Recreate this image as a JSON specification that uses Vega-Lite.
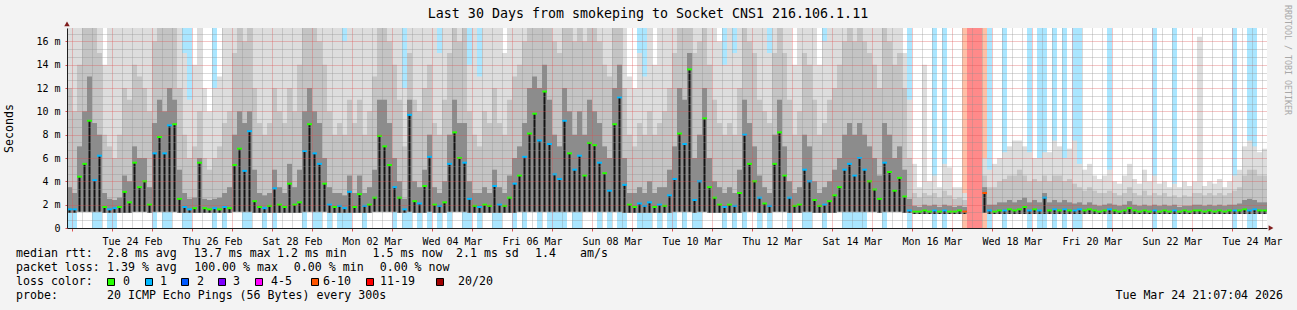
{
"$schema":"https://vega.github.io/schema/vega-lite/v6.json",
"width":1200,"height":200,
"autosize":{"type":"none"},
"padding":{"left":67,"top":28,"right":30,"bottom":82},
"background":"#f3f3f3",
"config":{"view":{"fill":"#ffffff","stroke":null},"font":"DejaVu Sans Mono"},
"title":{"text":"Last 30 Days from smokeping to Socket CNS1 216.106.1.11","font":"DejaVu Sans Mono","fontSize":13.3,"fontWeight":"normal","color":"#000000","anchor":"middle","frame":"group","dx":-19,"offset":-15},
"data":{"values":[
{"t":"2026-02-22T22:30Z","lo":1.3,"m":1.6,"q":3.5,"p":12,"hi":17.2,"l":1},
{"t":"2026-02-23T01:30Z","lo":1.3,"m":1.6,"q":3,"p":10,"hi":17.2,"l":1},
{"t":"2026-02-23T04:30Z","lo":1.4,"m":4.4,"q":7,"p":14,"hi":17.2,"l":0},
{"t":"2026-02-23T07:30Z","lo":1.4,"m":5.5,"q":10,"p":17.2,"hi":17.2,"l":0},
{"t":"2026-02-23T10:30Z","lo":1.4,"m":9.2,"q":13,"p":17.2,"hi":17.2,"l":0},
{"t":"2026-02-23T13:30Z","lo":1.4,"m":4.1,"q":9,"p":17.2,"hi":17.2,"l":1},
{"t":"2026-02-23T16:30Z","lo":1.4,"m":6.2,"q":8,"p":15,"hi":17.2,"l":1},
{"t":"2026-02-23T19:30Z","lo":1.3,"m":1.8,"q":3,"p":8,"hi":14,"l":0},
{"t":"2026-02-23T22:30Z","lo":1.3,"m":1.6,"q":2.5,"p":7,"hi":17.2,"l":1},
{"t":"2026-02-24T01:30Z","lo":1.3,"m":1.7,"q":2.4,"p":6,"hi":17.2,"l":1},
{"t":"2026-02-24T04:30Z","lo":1.3,"m":1.8,"q":2.6,"p":8,"hi":17.2,"l":0},
{"t":"2026-02-24T07:30Z","lo":1.3,"m":3.1,"q":4.5,"p":12,"hi":17.2,"l":0},
{"t":"2026-02-24T10:30Z","lo":1.3,"m":2.2,"q":4,"p":11,"hi":17.2,"l":0},
{"t":"2026-02-24T13:30Z","lo":1.4,"m":5.6,"q":7,"p":14,"hi":17.2,"l":0},
{"t":"2026-02-24T16:30Z","lo":1.4,"m":3.5,"q":6,"p":13,"hi":17.2,"l":0},
{"t":"2026-02-24T19:30Z","lo":1.4,"m":4,"q":6,"p":12,"hi":17.2,"l":0},
{"t":"2026-02-24T22:30Z","lo":1.3,"m":2,"q":3.5,"p":10,"hi":17.2,"l":0},
{"t":"2026-02-25T01:30Z","lo":1.4,"m":6.4,"q":9,"p":16,"hi":17.2,"l":1},
{"t":"2026-02-25T04:30Z","lo":1.4,"m":7.8,"q":11,"p":17.2,"hi":17.2,"l":0},
{"t":"2026-02-25T07:30Z","lo":1.4,"m":6.4,"q":10,"p":17.2,"hi":17.2,"l":1},
{"t":"2026-02-25T10:30Z","lo":1.4,"m":8.8,"q":12,"p":17.2,"hi":17.2,"l":1},
{"t":"2026-02-25T13:30Z","lo":1.4,"m":8.9,"q":11,"p":17.2,"hi":17.2,"l":0},
{"t":"2026-02-25T16:30Z","lo":1.3,"m":2.5,"q":5,"p":12,"hi":17.2,"l":0},
{"t":"2026-02-25T19:30Z","lo":1.3,"m":1.8,"q":3,"p":8,"hi":15,"l":1},
{"t":"2026-02-25T22:30Z","lo":1.3,"m":1.6,"q":2.5,"p":6,"hi":11,"l":1},
{"t":"2026-02-26T01:30Z","lo":1.3,"m":1.7,"q":2.6,"p":7,"hi":14,"l":0},
{"t":"2026-02-26T04:30Z","lo":1.3,"m":5.6,"q":6,"p":10,"hi":17.2,"l":0},
{"t":"2026-02-26T07:30Z","lo":1.3,"m":1.7,"q":2.5,"p":6,"hi":12,"l":0},
{"t":"2026-02-26T10:30Z","lo":1.3,"m":1.6,"q":2.4,"p":5,"hi":10,"l":0},
{"t":"2026-02-26T13:30Z","lo":1.3,"m":1.7,"q":2.5,"p":6,"hi":12,"l":1},
{"t":"2026-02-26T16:30Z","lo":1.3,"m":1.6,"q":2.6,"p":7,"hi":13,"l":0},
{"t":"2026-02-26T19:30Z","lo":1.3,"m":1.8,"q":3,"p":9,"hi":17.2,"l":1},
{"t":"2026-02-26T22:30Z","lo":1.3,"m":1.7,"q":3.5,"p":10,"hi":17.2,"l":0},
{"t":"2026-02-27T01:30Z","lo":1.4,"m":5.4,"q":8,"p":15,"hi":17.2,"l":0},
{"t":"2026-02-27T04:30Z","lo":1.4,"m":6.8,"q":10,"p":17.2,"hi":17.2,"l":0},
{"t":"2026-02-27T07:30Z","lo":1.4,"m":4.9,"q":9,"p":16,"hi":17.2,"l":1},
{"t":"2026-02-27T10:30Z","lo":1.4,"m":8.3,"q":10,"p":17.2,"hi":17.2,"l":1},
{"t":"2026-02-27T13:30Z","lo":1.3,"m":2.3,"q":5,"p":12,"hi":17.2,"l":0},
{"t":"2026-02-27T16:30Z","lo":1.3,"m":1.8,"q":3,"p":9,"hi":17.2,"l":0},
{"t":"2026-02-27T19:30Z","lo":1.3,"m":1.7,"q":2.8,"p":8,"hi":17.2,"l":1},
{"t":"2026-02-27T22:30Z","lo":1.3,"m":1.9,"q":3,"p":9,"hi":17.2,"l":0},
{"t":"2026-02-28T01:30Z","lo":1.3,"m":3.4,"q":5,"p":12,"hi":17.2,"l":1},
{"t":"2026-02-28T04:30Z","lo":1.3,"m":2,"q":3.5,"p":10,"hi":17.2,"l":0},
{"t":"2026-02-28T07:30Z","lo":1.3,"m":1.8,"q":3,"p":9,"hi":17.2,"l":0},
{"t":"2026-02-28T10:30Z","lo":1.3,"m":3.8,"q":5.5,"p":12,"hi":17.2,"l":0},
{"t":"2026-02-28T13:30Z","lo":1.3,"m":2,"q":3.5,"p":10,"hi":17.2,"l":0},
{"t":"2026-02-28T16:30Z","lo":1.3,"m":2.2,"q":5,"p":14,"hi":17.2,"l":0},
{"t":"2026-02-28T19:30Z","lo":1.4,"m":6.6,"q":10,"p":17.2,"hi":17.2,"l":1},
{"t":"2026-02-28T22:30Z","lo":1.4,"m":8.9,"q":12,"p":17.2,"hi":17.2,"l":0},
{"t":"2026-03-01T01:30Z","lo":1.4,"m":6.4,"q":10,"p":17.2,"hi":17.2,"l":1},
{"t":"2026-03-01T04:30Z","lo":1.4,"m":5.5,"q":9,"p":16,"hi":17.2,"l":1},
{"t":"2026-03-01T07:30Z","lo":1.4,"m":3.8,"q":6,"p":14,"hi":17.2,"l":0},
{"t":"2026-03-01T10:30Z","lo":1.3,"m":2,"q":3.5,"p":10,"hi":17.2,"l":1},
{"t":"2026-03-01T13:30Z","lo":1.3,"m":1.8,"q":3,"p":8,"hi":17.2,"l":0},
{"t":"2026-03-01T16:30Z","lo":1.3,"m":1.9,"q":3,"p":9,"hi":17.2,"l":1},
{"t":"2026-03-01T19:30Z","lo":1.3,"m":1.7,"q":2.8,"p":8,"hi":16,"l":1},
{"t":"2026-03-01T22:30Z","lo":1.3,"m":3.1,"q":4.5,"p":11,"hi":17.2,"l":1},
{"t":"2026-03-02T01:30Z","lo":1.3,"m":1.8,"q":3,"p":9,"hi":17.2,"l":0},
{"t":"2026-03-02T04:30Z","lo":1.3,"m":2.9,"q":4.5,"p":11,"hi":17.2,"l":0},
{"t":"2026-03-02T07:30Z","lo":1.3,"m":1.9,"q":3,"p":8,"hi":17.2,"l":1},
{"t":"2026-03-02T10:30Z","lo":1.3,"m":2,"q":3.5,"p":10,"hi":17.2,"l":0},
{"t":"2026-03-02T13:30Z","lo":1.4,"m":2.6,"q":5,"p":13,"hi":17.2,"l":0},
{"t":"2026-03-02T16:30Z","lo":1.4,"m":7.9,"q":11,"p":17.2,"hi":17.2,"l":0},
{"t":"2026-03-02T19:30Z","lo":1.4,"m":7,"q":11,"p":17.2,"hi":17.2,"l":0},
{"t":"2026-03-02T22:30Z","lo":1.4,"m":5.4,"q":9,"p":16,"hi":17.2,"l":0},
{"t":"2026-03-03T01:30Z","lo":1.4,"m":3.5,"q":6,"p":14,"hi":17.2,"l":1},
{"t":"2026-03-03T04:30Z","lo":1.3,"m":2.6,"q":4,"p":11,"hi":17.2,"l":0},
{"t":"2026-03-03T07:30Z","lo":1.3,"m":1.6,"q":2.5,"p":7,"hi":12,"l":1},
{"t":"2026-03-03T10:30Z","lo":1.4,"m":9.7,"q":11,"p":15,"hi":17.2,"l":1},
{"t":"2026-03-03T13:30Z","lo":1.3,"m":2.3,"q":4,"p":11,"hi":17.2,"l":0},
{"t":"2026-03-03T16:30Z","lo":1.3,"m":2.1,"q":3.5,"p":10,"hi":17.2,"l":1},
{"t":"2026-03-03T19:30Z","lo":1.3,"m":3.6,"q":5,"p":12,"hi":17.2,"l":0},
{"t":"2026-03-03T22:30Z","lo":1.4,"m":6.1,"q":8,"p":14,"hi":17.2,"l":1},
{"t":"2026-03-04T01:30Z","lo":1.3,"m":2,"q":3.5,"p":9,"hi":17.2,"l":0},
{"t":"2026-03-04T04:30Z","lo":1.3,"m":1.9,"q":3,"p":8,"hi":15,"l":1},
{"t":"2026-03-04T07:30Z","lo":1.3,"m":2.2,"q":4,"p":11,"hi":17.2,"l":0},
{"t":"2026-03-04T10:30Z","lo":1.4,"m":5.5,"q":8,"p":15,"hi":17.2,"l":1},
{"t":"2026-03-04T13:30Z","lo":1.4,"m":8.2,"q":11,"p":17.2,"hi":17.2,"l":0},
{"t":"2026-03-04T16:30Z","lo":1.4,"m":6,"q":9,"p":16,"hi":17.2,"l":0},
{"t":"2026-03-04T19:30Z","lo":1.4,"m":5.6,"q":9,"p":17.2,"hi":17.2,"l":1},
{"t":"2026-03-04T22:30Z","lo":1.3,"m":2.5,"q":4,"p":10,"hi":14,"l":1},
{"t":"2026-03-05T01:30Z","lo":1.3,"m":1.9,"q":3,"p":8,"hi":17.2,"l":0},
{"t":"2026-03-05T04:30Z","lo":1.3,"m":1.8,"q":3,"p":7,"hi":13,"l":1},
{"t":"2026-03-05T07:30Z","lo":1.3,"m":2,"q":3.5,"p":10,"hi":17.2,"l":0},
{"t":"2026-03-05T10:30Z","lo":1.3,"m":1.9,"q":3,"p":9,"hi":17.2,"l":0},
{"t":"2026-03-05T13:30Z","lo":1.3,"m":3.6,"q":5,"p":12,"hi":17.2,"l":1},
{"t":"2026-03-05T16:30Z","lo":1.3,"m":2,"q":3.5,"p":9,"hi":17.2,"l":1},
{"t":"2026-03-05T19:30Z","lo":1.3,"m":1.9,"q":3,"p":8,"hi":15,"l":0},
{"t":"2026-03-05T22:30Z","lo":1.3,"m":2.6,"q":4.5,"p":11,"hi":17.2,"l":0},
{"t":"2026-03-06T01:30Z","lo":1.3,"m":3.8,"q":6,"p":13,"hi":17.2,"l":1},
{"t":"2026-03-06T04:30Z","lo":1.4,"m":4.5,"q":7,"p":14,"hi":17.2,"l":0},
{"t":"2026-03-06T07:30Z","lo":1.4,"m":6.1,"q":9,"p":16,"hi":17.2,"l":1},
{"t":"2026-03-06T10:30Z","lo":1.4,"m":8.1,"q":12,"p":17.2,"hi":17.2,"l":0},
{"t":"2026-03-06T13:30Z","lo":1.4,"m":9.8,"q":13,"p":17.2,"hi":17.2,"l":0},
{"t":"2026-03-06T16:30Z","lo":1.4,"m":7.5,"q":12,"p":17.2,"hi":17.2,"l":1},
{"t":"2026-03-06T19:30Z","lo":1.4,"m":11.7,"q":14,"p":17.2,"hi":17.2,"l":0},
{"t":"2026-03-06T22:30Z","lo":1.4,"m":7.2,"q":11,"p":17.2,"hi":17.2,"l":1},
{"t":"2026-03-07T01:30Z","lo":1.4,"m":4.6,"q":8,"p":16,"hi":17.2,"l":1},
{"t":"2026-03-07T04:30Z","lo":1.4,"m":4.2,"q":7,"p":15,"hi":17.2,"l":1},
{"t":"2026-03-07T07:30Z","lo":1.4,"m":9.2,"q":12,"p":17.2,"hi":17.2,"l":1},
{"t":"2026-03-07T10:30Z","lo":1.4,"m":6.4,"q":10,"p":17.2,"hi":17.2,"l":0},
{"t":"2026-03-07T13:30Z","lo":1.4,"m":5,"q":8,"p":16,"hi":17.2,"l":1},
{"t":"2026-03-07T16:30Z","lo":1.4,"m":6.2,"q":10,"p":17.2,"hi":17.2,"l":1},
{"t":"2026-03-07T19:30Z","lo":1.4,"m":4.5,"q":8,"p":16,"hi":17.2,"l":0},
{"t":"2026-03-07T22:30Z","lo":1.4,"m":7.3,"q":11,"p":17.2,"hi":17.2,"l":0},
{"t":"2026-03-08T01:30Z","lo":1.4,"m":7.1,"q":10,"p":17.2,"hi":17.2,"l":0},
{"t":"2026-03-08T04:30Z","lo":1.4,"m":5.6,"q":9,"p":16,"hi":17.2,"l":1},
{"t":"2026-03-08T07:30Z","lo":1.4,"m":4.7,"q":7,"p":14,"hi":17.2,"l":0},
{"t":"2026-03-08T10:30Z","lo":1.4,"m":3.2,"q":6,"p":13,"hi":17.2,"l":1},
{"t":"2026-03-08T13:30Z","lo":1.4,"m":8.9,"q":12,"p":17.2,"hi":17.2,"l":0},
{"t":"2026-03-08T16:30Z","lo":1.4,"m":11.2,"q":14,"p":17.2,"hi":17.2,"l":1},
{"t":"2026-03-08T19:30Z","lo":1.3,"m":3.7,"q":6,"p":12,"hi":17.2,"l":1},
{"t":"2026-03-08T22:30Z","lo":1.3,"m":2,"q":3,"p":8,"hi":13,"l":0},
{"t":"2026-03-09T01:30Z","lo":1.3,"m":1.8,"q":3,"p":7,"hi":12,"l":0},
{"t":"2026-03-09T04:30Z","lo":1.3,"m":2.1,"q":3.5,"p":9,"hi":15,"l":1},
{"t":"2026-03-09T07:30Z","lo":1.3,"m":1.9,"q":3,"p":8,"hi":13,"l":1},
{"t":"2026-03-09T10:30Z","lo":1.3,"m":2.2,"q":4,"p":10,"hi":17.2,"l":1},
{"t":"2026-03-09T13:30Z","lo":1.3,"m":1.8,"q":3,"p":8,"hi":14,"l":0},
{"t":"2026-03-09T16:30Z","lo":1.3,"m":2,"q":3.5,"p":9,"hi":17.2,"l":1},
{"t":"2026-03-09T19:30Z","lo":1.3,"m":1.9,"q":3.5,"p":10,"hi":17.2,"l":0},
{"t":"2026-03-09T22:30Z","lo":1.3,"m":2.8,"q":5,"p":12,"hi":17.2,"l":1},
{"t":"2026-03-10T01:30Z","lo":1.4,"m":4.2,"q":7,"p":15,"hi":17.2,"l":1},
{"t":"2026-03-10T04:30Z","lo":1.4,"m":8.1,"q":12,"p":17.2,"hi":17.2,"l":0},
{"t":"2026-03-10T07:30Z","lo":1.4,"m":7.2,"q":11,"p":17.2,"hi":17.2,"l":1},
{"t":"2026-03-10T10:30Z","lo":1.4,"m":13.6,"q":15,"p":17.2,"hi":17.2,"l":0},
{"t":"2026-03-10T13:30Z","lo":1.3,"m":2.4,"q":6,"p":15,"hi":17.2,"l":1},
{"t":"2026-03-10T16:30Z","lo":1.4,"m":4,"q":8,"p":16,"hi":17.2,"l":1},
{"t":"2026-03-10T19:30Z","lo":1.4,"m":9.4,"q":12,"p":17.2,"hi":17.2,"l":0},
{"t":"2026-03-10T22:30Z","lo":1.3,"m":3.5,"q":6,"p":14,"hi":17.2,"l":0},
{"t":"2026-03-11T01:30Z","lo":1.3,"m":2.6,"q":4,"p":11,"hi":17.2,"l":0},
{"t":"2026-03-11T04:30Z","lo":1.3,"m":2,"q":3.5,"p":9,"hi":16,"l":0},
{"t":"2026-03-11T07:30Z","lo":1.3,"m":1.8,"q":3,"p":8,"hi":14,"l":1},
{"t":"2026-03-11T10:30Z","lo":1.3,"m":2,"q":3.5,"p":9,"hi":17.2,"l":0},
{"t":"2026-03-11T13:30Z","lo":1.3,"m":1.9,"q":3,"p":8,"hi":15,"l":1},
{"t":"2026-03-11T16:30Z","lo":1.3,"m":3,"q":5,"p":12,"hi":17.2,"l":0},
{"t":"2026-03-11T19:30Z","lo":1.4,"m":8,"q":11,"p":17.2,"hi":17.2,"l":1},
{"t":"2026-03-11T22:30Z","lo":1.4,"m":5.5,"q":9,"p":16,"hi":17.2,"l":0},
{"t":"2026-03-12T01:30Z","lo":1.4,"m":4,"q":7,"p":15,"hi":17.2,"l":0},
{"t":"2026-03-12T04:30Z","lo":1.3,"m":2.6,"q":4.5,"p":11,"hi":17.2,"l":1},
{"t":"2026-03-12T07:30Z","lo":1.3,"m":2.1,"q":3.5,"p":10,"hi":17.2,"l":0},
{"t":"2026-03-12T10:30Z","lo":1.3,"m":1.9,"q":3,"p":9,"hi":15,"l":1},
{"t":"2026-03-12T13:30Z","lo":1.4,"m":5.5,"q":8,"p":15,"hi":17.2,"l":0},
{"t":"2026-03-12T16:30Z","lo":1.4,"m":8.2,"q":11,"p":17.2,"hi":17.2,"l":0},
{"t":"2026-03-12T19:30Z","lo":1.4,"m":4.5,"q":7,"p":15,"hi":17.2,"l":0},
{"t":"2026-03-12T22:30Z","lo":1.3,"m":2.6,"q":4,"p":11,"hi":17.2,"l":1},
{"t":"2026-03-13T01:30Z","lo":1.3,"m":1.9,"q":3,"p":8,"hi":14,"l":0},
{"t":"2026-03-13T04:30Z","lo":1.3,"m":2,"q":3.5,"p":10,"hi":17.2,"l":0},
{"t":"2026-03-13T07:30Z","lo":1.4,"m":5,"q":8,"p":15,"hi":17.2,"l":1},
{"t":"2026-03-13T10:30Z","lo":1.4,"m":4,"q":7,"p":14,"hi":17.2,"l":1},
{"t":"2026-03-13T13:30Z","lo":1.3,"m":2.4,"q":4,"p":11,"hi":17.2,"l":0},
{"t":"2026-03-13T16:30Z","lo":1.3,"m":1.9,"q":3,"p":8,"hi":14,"l":0},
{"t":"2026-03-13T19:30Z","lo":1.3,"m":2,"q":3.5,"p":9,"hi":16,"l":1},
{"t":"2026-03-13T22:30Z","lo":1.3,"m":2.3,"q":4,"p":11,"hi":17.2,"l":0},
{"t":"2026-03-14T01:30Z","lo":1.3,"m":2.8,"q":5,"p":12,"hi":17.2,"l":0},
{"t":"2026-03-14T04:30Z","lo":1.4,"m":3.5,"q":6,"p":14,"hi":17.2,"l":0},
{"t":"2026-03-14T07:30Z","lo":1.4,"m":5,"q":8,"p":16,"hi":17.2,"l":1},
{"t":"2026-03-14T10:30Z","lo":1.4,"m":5.5,"q":9,"p":17.2,"hi":17.2,"l":1},
{"t":"2026-03-14T13:30Z","lo":1.4,"m":4.5,"q":8,"p":16,"hi":17.2,"l":1},
{"t":"2026-03-14T16:30Z","lo":1.4,"m":6,"q":9,"p":17.2,"hi":17.2,"l":1},
{"t":"2026-03-14T19:30Z","lo":1.4,"m":5,"q":8,"p":16,"hi":17.2,"l":1},
{"t":"2026-03-14T22:30Z","lo":1.4,"m":4,"q":7,"p":15,"hi":17.2,"l":0},
{"t":"2026-03-15T01:30Z","lo":1.4,"m":3.3,"q":6,"p":14,"hi":17.2,"l":0},
{"t":"2026-03-15T04:30Z","lo":1.3,"m":2.5,"q":4.5,"p":12,"hi":17.2,"l":0},
{"t":"2026-03-15T07:30Z","lo":1.4,"m":5.6,"q":9,"p":17.2,"hi":17.2,"l":1},
{"t":"2026-03-15T10:30Z","lo":1.4,"m":4.8,"q":8,"p":16,"hi":17.2,"l":0},
{"t":"2026-03-15T13:30Z","lo":1.4,"m":3.2,"q":6,"p":14,"hi":17.2,"l":0},
{"t":"2026-03-15T16:30Z","lo":1.4,"m":4.3,"q":7,"p":15,"hi":17.2,"l":0},
{"t":"2026-03-15T19:30Z","lo":1.3,"m":2.7,"q":5,"p":12,"hi":15,"l":0},
{"t":"2026-03-15T22:30Z","lo":1.3,"m":1.5,"q":2.5,"p":6,"hi":11,"l":1},
{"t":"2026-03-16T01:30Z","lo":1.2,"m":1.4,"q":1.9,"p":3,"hi":5.5,"l":0},
{"t":"2026-03-16T04:30Z","lo":1.2,"m":1.4,"q":1.8,"p":2.6,"hi":3.5,"l":0},
{"t":"2026-03-16T07:30Z","lo":1.2,"m":1.5,"q":2,"p":3,"hi":14,"l":0},
{"t":"2026-03-16T10:30Z","lo":1.2,"m":1.4,"q":1.9,"p":2.8,"hi":4,"l":0},
{"t":"2026-03-16T13:30Z","lo":1.2,"m":1.5,"q":2,"p":3,"hi":4.5,"l":1},
{"t":"2026-03-16T16:30Z","lo":1.2,"m":1.4,"q":1.8,"p":2.6,"hi":3.5,"l":0},
{"t":"2026-03-16T19:30Z","lo":1.2,"m":1.5,"q":2,"p":3.2,"hi":5.5,"l":1},
{"t":"2026-03-16T22:30Z","lo":1.2,"m":1.4,"q":1.9,"p":2.8,"hi":5.2,"l":0},
{"t":"2026-03-17T01:30Z","lo":1.2,"m":1.4,"q":1.8,"p":2.5,"hi":3.5,"l":0},
{"t":"2026-03-17T04:30Z","lo":1.2,"m":1.5,"q":1.9,"p":2.6,"hi":3.5,"l":0},
{"t":"2026-03-17T07:30Z","lo":1.2,"m":1.4,"q":1.8,"p":2.4,"hi":3,"l":7},
{"t":"2026-03-17T10:30Z","l":20},
{"t":"2026-03-17T13:30Z","l":20},
{"t":"2026-03-17T16:30Z","l":20},
{"t":"2026-03-17T19:30Z","lo":1.3,"m":3,"q":3.5,"p":4.5,"hi":6,"l":7},
{"t":"2026-03-17T22:30Z","lo":1.2,"m":1.5,"q":2,"p":3.5,"hi":5,"l":1},
{"t":"2026-03-18T01:30Z","lo":1.2,"m":1.4,"q":2,"p":3.5,"hi":5.5,"l":0},
{"t":"2026-03-18T04:30Z","lo":1.2,"m":1.5,"q":2.2,"p":4,"hi":6,"l":0},
{"t":"2026-03-18T07:30Z","lo":1.2,"m":1.5,"q":2.2,"p":4.2,"hi":6.5,"l":1},
{"t":"2026-03-18T10:30Z","lo":1.2,"m":1.6,"q":2.4,"p":4.5,"hi":7,"l":0},
{"t":"2026-03-18T13:30Z","lo":1.2,"m":1.5,"q":2.2,"p":4.5,"hi":7.5,"l":0},
{"t":"2026-03-18T16:30Z","lo":1.2,"m":1.6,"q":2.4,"p":5,"hi":7.5,"l":0},
{"t":"2026-03-18T19:30Z","lo":1.2,"m":1.8,"q":2.6,"p":4.5,"hi":7,"l":0},
{"t":"2026-03-18T22:30Z","lo":1.2,"m":1.5,"q":2.2,"p":4,"hi":6.5,"l":1},
{"t":"2026-03-19T01:30Z","lo":1.2,"m":1.6,"q":2.4,"p":4.2,"hi":6,"l":0},
{"t":"2026-03-19T04:30Z","lo":1.2,"m":1.5,"q":2.2,"p":4,"hi":6,"l":1},
{"t":"2026-03-19T07:30Z","lo":1.2,"m":2.6,"q":3,"p":4.5,"hi":6.5,"l":1},
{"t":"2026-03-19T10:30Z","lo":1.2,"m":1.5,"q":2.2,"p":4,"hi":6.5,"l":0},
{"t":"2026-03-19T13:30Z","lo":1.2,"m":1.6,"q":2.4,"p":4.5,"hi":7.5,"l":1},
{"t":"2026-03-19T16:30Z","lo":1.2,"m":1.5,"q":2.2,"p":4.5,"hi":7,"l":0},
{"t":"2026-03-19T19:30Z","lo":1.2,"m":1.6,"q":2.4,"p":4,"hi":6,"l":1},
{"t":"2026-03-19T22:30Z","lo":1.2,"m":1.5,"q":2.2,"p":4.2,"hi":6.8,"l":0},
{"t":"2026-03-20T01:30Z","lo":1.2,"m":1.5,"q":2.1,"p":3.8,"hi":7.5,"l":1},
{"t":"2026-03-20T04:30Z","lo":1.2,"m":1.6,"q":2.2,"p":3.5,"hi":5.5,"l":1},
{"t":"2026-03-20T07:30Z","lo":1.2,"m":1.5,"q":2,"p":3.2,"hi":5,"l":0},
{"t":"2026-03-20T10:30Z","lo":1.2,"m":1.6,"q":2.2,"p":3.5,"hi":5.5,"l":0},
{"t":"2026-03-20T13:30Z","lo":1.2,"m":1.5,"q":2,"p":3.2,"hi":4.5,"l":0},
{"t":"2026-03-20T16:30Z","lo":1.2,"m":1.4,"q":1.9,"p":3,"hi":4.2,"l":0},
{"t":"2026-03-20T19:30Z","lo":1.2,"m":1.5,"q":2,"p":3,"hi":4.5,"l":0},
{"t":"2026-03-20T22:30Z","lo":1.2,"m":1.6,"q":2.1,"p":3.2,"hi":5,"l":1},
{"t":"2026-03-21T01:30Z","lo":1.2,"m":1.5,"q":2,"p":3,"hi":4,"l":0},
{"t":"2026-03-21T04:30Z","lo":1.2,"m":1.4,"q":1.9,"p":2.8,"hi":3.8,"l":0},
{"t":"2026-03-21T07:30Z","lo":1.2,"m":1.5,"q":2,"p":3,"hi":4.5,"l":0},
{"t":"2026-03-21T10:30Z","lo":1.2,"m":1.7,"q":2.3,"p":3.5,"hi":5.5,"l":0},
{"t":"2026-03-21T13:30Z","lo":1.2,"m":1.5,"q":2,"p":3,"hi":4.2,"l":0},
{"t":"2026-03-21T16:30Z","lo":1.2,"m":1.4,"q":1.9,"p":2.8,"hi":3.8,"l":0},
{"t":"2026-03-21T19:30Z","lo":1.2,"m":1.5,"q":2,"p":3.2,"hi":5,"l":0},
{"t":"2026-03-21T22:30Z","lo":1.2,"m":1.4,"q":1.9,"p":2.8,"hi":4,"l":0},
{"t":"2026-03-22T01:30Z","lo":1.2,"m":1.5,"q":2,"p":3,"hi":4.5,"l":1},
{"t":"2026-03-22T04:30Z","lo":1.2,"m":1.4,"q":1.9,"p":2.8,"hi":3.8,"l":0},
{"t":"2026-03-22T07:30Z","lo":1.2,"m":1.5,"q":2,"p":3,"hi":4,"l":0},
{"t":"2026-03-22T10:30Z","lo":1.2,"m":1.4,"q":1.9,"p":2.7,"hi":3.5,"l":0},
{"t":"2026-03-22T13:30Z","lo":1.2,"m":1.5,"q":2,"p":2.8,"hi":3.8,"l":1},
{"t":"2026-03-22T16:30Z","lo":1.2,"m":1.4,"q":1.8,"p":2.6,"hi":3.5,"l":0},
{"t":"2026-03-22T19:30Z","lo":1.2,"m":1.5,"q":1.9,"p":2.8,"hi":4,"l":0},
{"t":"2026-03-22T22:30Z","lo":1.2,"m":1.4,"q":1.9,"p":2.7,"hi":3.6,"l":0},
{"t":"2026-03-23T01:30Z","lo":1.2,"m":1.5,"q":2,"p":3,"hi":4,"l":0},
{"t":"2026-03-23T04:30Z","lo":1.2,"m":1.5,"q":2,"p":3,"hi":16.4,"l":0},
{"t":"2026-03-23T07:30Z","lo":1.2,"m":1.4,"q":1.9,"p":2.8,"hi":3.6,"l":0},
{"t":"2026-03-23T10:30Z","lo":1.2,"m":1.5,"q":2,"p":3,"hi":4,"l":0},
{"t":"2026-03-23T13:30Z","lo":1.2,"m":1.4,"q":1.9,"p":2.8,"hi":3.8,"l":0},
{"t":"2026-03-23T16:30Z","lo":1.2,"m":1.5,"q":2,"p":3,"hi":4.2,"l":0},
{"t":"2026-03-23T19:30Z","lo":1.2,"m":1.4,"q":1.9,"p":2.8,"hi":3.5,"l":0},
{"t":"2026-03-23T22:30Z","lo":1.2,"m":1.5,"q":2,"p":3,"hi":4,"l":0},
{"t":"2026-03-24T01:30Z","lo":1.2,"m":1.5,"q":2,"p":3.2,"hi":4.5,"l":1},
{"t":"2026-03-24T04:30Z","lo":1.2,"m":1.5,"q":2.1,"p":3.5,"hi":5,"l":0},
{"t":"2026-03-24T07:30Z","lo":1.2,"m":1.6,"q":2.4,"p":4.5,"hi":7,"l":0},
{"t":"2026-03-24T10:30Z","lo":1.2,"m":1.5,"q":2.5,"p":5,"hi":7.5,"l":1},
{"t":"2026-03-24T13:30Z","lo":1.2,"m":1.6,"q":2.4,"p":5,"hi":7,"l":1},
{"t":"2026-03-24T16:30Z","lo":1.2,"m":1.5,"q":2.2,"p":4.5,"hi":6.5,"l":0},
{"t":"2026-03-24T19:30Z","lo":1.2,"m":1.5,"q":2.2,"p":4.5,"hi":6.8,"l":0}
]},
"layer":[
{"transform":[{"filter":"datum.l > 0"}],
 "mark":{"type":"bar","width":5,"clip":true},
 "encoding":{
  "x":{"field":"t","type":"temporal","scale":{"type":"utc","domain":[1771794000000,1774386000000],"padding":0},
   "axis":{"tickCount":120,"grid":true,
    "gridColor":{"condition":{"test":"utchours(datum.value) == 0","value":"#de5050"},"value":"#8f8f8f"},
    "gridOpacity":0.65,"gridDash":[1,1],
    "labelExpr":"utchours(datum.value) == 0 && utcdate(datum.value) % 2 == 0 ? utcFormat(datum.value, '%a %d %b') : ''",
    "labelOffset":20,"labelFont":"DejaVu Sans Mono","labelFontSize":10,"labelColor":"#000000","labelPadding":5,"labelOverlap":false,"labelFlush":false,"labelBound":false,
    "ticks":true,"tickColor":"#de5050","tickSize":3,
    "tickOpacity":{"condition":{"test":"utchours(datum.value) == 0","value":1},"value":0},
    "domainColor":"#1f1f1f","title":null,"zindex":1}},
  "y":{"datum":17.2,"type":"quantitative","scale":{"domain":[0,17.15],"nice":false,"zero":false},
   "axis":{"values":[0,0.6667,1.3333,2,2.6667,3.3333,4,4.6667,5.3333,6,6.6667,7.3333,8,8.6667,9.3333,10,10.6667,11.3333,12,12.6667,13.3333,14,14.6667,15.3333,16,16.6667],
    "tickCount":100,"grid":true,
    "gridColor":{"condition":{"test":"abs(datum.value/2 - round(datum.value/2)) < 0.01","value":"#de5050"},"value":"#8f8f8f"},
    "gridOpacity":0.65,"gridDash":[1,1],
    "labelExpr":"abs(datum.value/2 - round(datum.value/2)) < 0.01 ? (datum.value < 0.01 ? '0' : round(datum.value) + ' m') : ''",
    "labelOverlap":false,"labelFont":"DejaVu Sans Mono","labelFontSize":10,"labelColor":"#000000",
    "ticks":true,"tickColor":"#de5050","tickSize":2,
    "tickOpacity":{"condition":{"test":"abs(datum.value/2 - round(datum.value/2)) < 0.01","value":1},"value":0},
    "labelPadding":5,"domainColor":"#1f1f1f","title":"Seconds","titleFont":"DejaVu Sans Mono","titleFontSize":11.6,"titleFontWeight":"normal","titleColor":"#000000","titlePadding":21,"zindex":1}},
  "y2":{"datum":0},
  "color":{"field":"l","type":"quantitative","scale":{"type":"threshold","domain":[1,2,3,4,6,11,20],"range":["#ffffff","#aae6ff","#aac7ff","#d4aaff","#ffaaff","#ffbfa6","#ffa0a0","#ff8a8a"]},"legend":null}
 }},
{"mark":{"type":"bar","width":5,"clip":true,"color":"#dddddd"},
 "encoding":{"x":{"field":"t","type":"temporal"},"y":{"field":"lo","type":"quantitative"},"y2":{"field":"hi"}}},
{"mark":{"type":"bar","width":5,"clip":true,"color":"#c4c4c4"},
 "encoding":{"x":{"field":"t","type":"temporal"},"y":{"field":"lo","type":"quantitative"},"y2":{"field":"p"}}},
{"mark":{"type":"bar","width":5,"clip":true,"color":"#8c8c8c"},
 "encoding":{"x":{"field":"t","type":"temporal"},"y":{"field":"lo","type":"quantitative"},"y2":{"field":"q"}}},
{"mark":{"type":"bar","width":2,"clip":true,"color":"#141414"},
 "encoding":{"x":{"field":"t","type":"temporal"},"y":{"field":"lo","type":"quantitative"},"y2":{"field":"m"}}},
{"mark":{"type":"tick","orient":"horizontal","size":5,"thickness":2,"opacity":1},
 "encoding":{
  "x":{"field":"t","type":"temporal"},
  "y":{"field":"m","type":"quantitative"},
  "color":{"field":"l","type":"quantitative","scale":{"type":"threshold","domain":[1,2,3,4,6,11,20],"range":["#26ff00","#00b8ff","#0059ff","#7e00ff","#ff00ff","#ff5500","#ff0000","#a00000"]},"legend":null}
 }},
{"data":{"values":[{"t":"2026-02-22T21:00Z","v":17.5}]},
 "mark":{"type":"point","shape":"triangle-up","filled":true,"size":30,"color":"#801e1e","opacity":1},
 "encoding":{"x":{"field":"t","type":"temporal"},"y":{"field":"v","type":"quantitative"}}},
{"data":{"values":[{"t":"2026-03-24T23:24Z","v":0}]},
 "mark":{"type":"point","shape":"triangle-right","filled":true,"size":30,"color":"#801e1e","opacity":1},
 "encoding":{"x":{"field":"t","type":"temporal"},"y":{"field":"v","type":"quantitative"}}},
{"data":{"values":[{"t":"2026-03-25T09:00Z","v":19.12,"s":"RRDTOOL / TOBI OETIKER"}]},
 "mark":{"type":"text","angle":90,"align":"left","baseline":"middle","font":"DejaVu Sans Mono","fontSize":8.3,"color":"#a8a8a8"},
 "encoding":{"x":{"field":"t","type":"temporal"},"y":{"field":"v","type":"quantitative"},"text":{"field":"s"}}},
{"data":{"values":[
 {"t":"2026-02-21T14:24Z","v":-2.23,"s":"median rtt:"},
 {"t":"2026-02-23T21:00Z","v":-2.23,"s":"2.8 ms avg"},
 {"t":"2026-02-26T01:05Z","v":-2.23,"s":"13.7 ms max"},
 {"t":"2026-02-28T03:00Z","v":-2.23,"s":"1.2 ms min"},
 {"t":"2026-03-02T12:22Z","v":-2.23,"s":"1.5 ms now"},
 {"t":"2026-03-04T14:24Z","v":-2.23,"s":"2.1 ms sd"},
 {"t":"2026-03-06T13:48Z","v":-2.23,"s":"1.4"},
 {"t":"2026-03-07T16:48Z","v":-2.23,"s":"am/s"},
 {"t":"2026-02-21T14:24Z","v":-3.43,"s":"packet loss:"},
 {"t":"2026-02-23T21:00Z","v":-3.43,"s":"1.39 % avg"},
 {"t":"2026-02-26T01:19Z","v":-3.43,"s":"100.00 % max"},
 {"t":"2026-02-28T13:05Z","v":-3.43,"s":"0.00 % min"},
 {"t":"2026-03-02T16:37Z","v":-3.43,"s":"0.00 % now"},
 {"t":"2026-02-21T14:24Z","v":-4.63,"s":"loss color:"},
 {"t":"2026-02-24T06:36Z","v":-4.63,"s":"0"},
 {"t":"2026-02-25T04:48Z","v":-4.63,"s":"1"},
 {"t":"2026-02-26T03:00Z","v":-4.63,"s":"2"},
 {"t":"2026-02-27T00:36Z","v":-4.63,"s":"3"},
 {"t":"2026-02-27T23:24Z","v":-4.63,"s":"4-5"},
 {"t":"2026-03-01T06:36Z","v":-4.63,"s":"6-10"},
 {"t":"2026-03-02T16:48Z","v":-4.63,"s":"11-19"},
 {"t":"2026-03-04T15:36Z","v":-4.63,"s":"20/20"},
 {"t":"2026-02-21T14:24Z","v":-5.83,"s":"probe:"},
 {"t":"2026-02-23T21:00Z","v":-5.83,"s":"20 ICMP Echo Pings (56 Bytes) every 300s"}
 ]},
 "mark":{"type":"text","align":"left","baseline":"middle","font":"DejaVu Sans Mono","fontSize":11.6,"color":"#000000"},
 "encoding":{"x":{"field":"t","type":"temporal"},"y":{"field":"v","type":"quantitative"},"text":{"field":"s"}}},
{"data":{"values":[{"t":"2026-03-25T06:36Z","v":-5.83,"s":"Tue Mar 24 21:07:04 2026"}]},
 "mark":{"type":"text","align":"right","baseline":"middle","font":"DejaVu Sans Mono","fontSize":11.6,"color":"#000000"},
 "encoding":{"x":{"field":"t","type":"temporal"},"y":{"field":"v","type":"quantitative"},"text":{"field":"s"}}},
{"data":{"values":[
 {"t":"2026-02-23T23:24Z","v":-4.63,"k":"0"},
 {"t":"2026-02-24T22:12Z","v":-4.63,"k":"1"},
 {"t":"2026-02-25T19:48Z","v":-4.63,"k":"2"},
 {"t":"2026-02-26T18:00Z","v":-4.63,"k":"3"},
 {"t":"2026-02-27T16:12Z","v":-4.63,"k":"4-5"},
 {"t":"2026-03-01T01:48Z","v":-4.63,"k":"6-10"},
 {"t":"2026-03-02T10:48Z","v":-4.63,"k":"11-19"},
 {"t":"2026-03-04T04:48Z","v":-4.63,"k":"20/20"}
 ]},
 "mark":{"type":"point","shape":"square","filled":true,"size":49,"stroke":"#000000","strokeWidth":1,"opacity":1},
 "encoding":{"x":{"field":"t","type":"temporal"},"y":{"field":"v","type":"quantitative"},
  "fill":{"field":"k","type":"nominal","scale":{"domain":["0","1","2","3","4-5","6-10","11-19","20/20"],"range":["#26ff00","#00b8ff","#0059ff","#7e00ff","#ff00ff","#ff5500","#ff0000","#a00000"]},"legend":null}}}
],
"resolve":{"scale":{"color":"independent"}}
}
